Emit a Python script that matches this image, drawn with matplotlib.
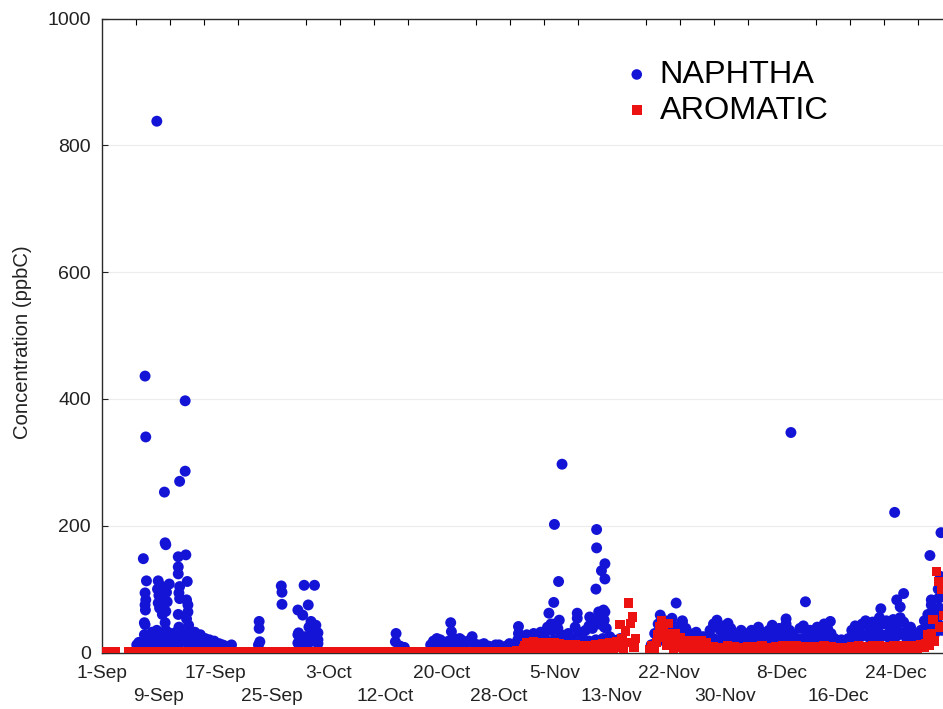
import numpy as np
import matplotlib
matplotlib.use("Agg")
import matplotlib.pyplot as plt
from matplotlib.ticker import MultipleLocator

nan = np.nan

# ---- time axis: days since 1-Sep ----
date_labels = ["1-Sep", "9-Sep", "17-Sep", "25-Sep", "3-Oct", "12-Oct", "20-Oct",
               "28-Oct", "5-Nov", "13-Nov", "22-Nov", "30-Nov", "8-Dec", "16-Dec", "24-Dec"]
label_step_days = 8.2
minor_step_days = 4.92

# ---- NAPHTHA (ppbC), individual samples: (day, value) ----
naphtha_sep = [
    (5.1, 12), (5.4, 16), (5.8, 12),
    (6.05, 148), (6.3, 436), (6.4, 340), (6.5, 113), (6.3, 94), (6.4, 83), (6.3, 75),
    (6.35, 67), (6.2, 47), (6.3, 44), (6.2, 28), (6.4, 18), (6.1, 12),
    (7.0, 20), (7.2, 14), (7.4, 28), (7.6, 18), (7.3, 32),
    (8.0, 838), (8.2, 113), (8.1, 100), (8.3, 90), (8.2, 78), (8.4, 70), (8.0, 35),
    (8.3, 22), (8.1, 14), (8.6, 105), (8.7, 85), (8.8, 60), (8.5, 25), (8.9, 15),
    (9.1, 253), (9.2, 173), (9.3, 170), (9.8, 108), (9.4, 95), (9.5, 80), (9.3, 65),
    (9.2, 47), (9.3, 35), (9.6, 25), (9.4, 15), (9.7, 12),
    (10.0, 30), (10.2, 18), (10.4, 25), (10.6, 14), (10.8, 32), (10.3, 12), (10.9, 20),
    (11.3, 270), (11.1, 151), (11.1, 135), (11.1, 124), (11.3, 104), (11.2, 94),
    (11.3, 85), (11.1, 60), (11.2, 40), (11.4, 28), (11.3, 15),
    (12.1, 397), (12.1, 286), (12.2, 154), (12.4, 112), (12.3, 83), (12.5, 75),
    (12.5, 64), (12.3, 53), (12.6, 43), (12.2, 30), (12.4, 20), (12.6, 12),
    (13.0, 30), (13.2, 20), (13.5, 32), (13.4, 12), (13.6, 25), (13.8, 15), (14.0, 12),
    (14.3, 28), (14.2, 22), (14.5, 12), (14.8, 18), (15.0, 22), (15.1, 12), (15.4, 15),
    (15.6, 20), (15.8, 12), (16.2, 12), (16.3, 18), (16.6, 10), (17.0, 14), (17.5, 12),
    (18.0, 10), (18.8, 12),
    (22.8, 49), (22.8, 38), (22.9, 17), (22.7, 12),
    (26.0, 105), (26.1, 95), (26.1, 76),
    (28.4, 67), (29.3, 106), (30.8, 106), (29.9, 75), (29.1, 59), (30.3, 49), (31.0, 43),
    (31.3, 31), (28.5, 31), (28.4, 28), (28.4, 15), (29.0, 12), (31.3, 14), (29.5, 25),
    (30.0, 40), (30.5, 20), (30.6, 30), (31.3, 20), (29.8, 12),
]

naphtha_oct = [
    (42.6, 30), (42.5, 17), (43.2, 10), (43.8, 8),
    (47.6, 12), (48.0, 18), (48.5, 22), (48.8, 12), (49.0, 20), (49.5, 15), (49.8, 12),
    (50.2, 18), (50.5, 47), (50.6, 33), (50.8, 15), (51.0, 22), (51.5, 15), (51.8, 22),
    (52.0, 20), (52.4, 10), (52.5, 12), (53.0, 18), (53.6, 25), (53.8, 15), (54.2, 10),
    (54.5, 12), (55.0, 12), (55.3, 14), (55.6, 10), (56.0, 10), (56.2, 8), (56.8, 8),
    (57.0, 12), (57.5, 12), (57.8, 6), (58.3, 6), (58.5, 10), (59.0, 14), (59.6, 10),
    (60.2, 20), (60.3, 41), (60.3, 30), (60.5, 12),
]

naphtha_peaks_late = [
    (64.7, 62), (65.0, 45), (65.2, 35), (65.4, 79), (65.5, 202), (66.1, 112), (66.2, 51),
    (66.6, 297), (68.8, 62), (68.8, 54), (70.6, 56),
    (71.5, 100), (71.6, 165), (71.6, 194), (71.9, 64), (72.3, 129), (72.8, 140),
    (72.8, 116), (72.8, 64), (72.7, 51), (72.7, 40), (72.6, 67),
    (80.8, 59), (83.1, 78), (82.5, 54), (84.0, 50),
    (89.0, 51), (90.6, 46), (92.5, 35), (97.0, 43),
    (99.7, 347), (99.0, 53), (101.8, 80), (105.4, 49),
    (112.7, 69), (114.7, 221), (115.0, 83), (115.5, 72), (116.0, 93),
    (119.8, 153), (121.4, 189), (121.3, 120), (120.0, 83), (120.2, 62), (121.0, 100),
    (121.5, 88), (121.2, 70),
]

# twice-daily NAPHTHA samples from 1-Nov (day 61): upper and lower readings
naphtha_nov_dec_start = 61.0
naphtha_nov_dec_step = 0.5
naphtha_nov_dec_high = [
    22, 28, 20, 30, 25, 32, 28, 40, 35, 45,
    38, 28, 25, 30, 22, 40, 32, 28, 35, 42,
    38, 50, 45, 55, 38, 25, 20, 18, 22, nan,
    nan, nan, nan, nan, nan, nan, nan, 12, 30, 45,
    40, 50, 35, 45, 40, 35, 48, 38, 30, 28,
    32, 22, 25, 20, 35, 45, 40, 35, 42, 30,
    38, 28, 22, 25, 20, 30, 35, 25, 40, 32,
    28, 35, 22, 30, 38, 30, 45, 35, 28, 22,
    38, 42, 30, 35, 28, 40, 35, 45, 38, 30,
    22, 18, 20, 15, 22, 35, 42, 38, 45, 50,
    40, 48, 42, 55, 45, 50, 40, 52, 45, 55,
    48, 35, 40, 30, 25, 35, 50, 60, 75, 55,
    85, 65,
]
naphtha_nov_dec_low = [
    12, 15, 10, 14, 16, 12, 15, 18, 14, 20,
    15, 12, 14, 10, 12, 16, 14, 12, 15, 18,
    14, 20, 16, 22, 15, 12, 10, 12, 14, nan,
    nan, nan, nan, nan, nan, nan, nan, 8, 14, 18,
    20, 22, 16, 20, 18, 15, 22, 18, 14, 16,
    15, 12, 14, 10, 16, 22, 18, 20, 22, 16,
    18, 14, 12, 15, 10, 16, 20, 14, 22, 18,
    15, 20, 12, 16, 22, 18, 24, 20, 16, 12,
    20, 22, 18, 20, 15, 22, 18, 24, 20, 16,
    12, 10, 12, 9, 12, 20, 24, 22, 26, 28,
    24, 28, 22, 30, 26, 28, 22, 30, 26, 32,
    28, 20, 24, 18, 14, 20, 28, 35, 40, 30,
    45, 35,
]

# ---- AROMATIC (ppbC) ----
# daily samples, 1-Sep to 31-Oct
aromatic_sep_oct = [
    1, 1, 1, nan, 1, 1, 1, 1, 1, 1,
    1, 1, 1, 1, 1, 1, 1, 1, 1, 1,
    1, 1, 1, 1, 1, 1, 1, 1, 1, 1,
    1, 1, 1, 1, 1, 1, 1, 1, 1, 1,
    1.5, 2, 2, 1.5, 1, 1, 1, 1, 1, 1,
    1, 1, 1, 1, 1, 1, 1, 1, 2, 2, 3,
]
# six-hourly samples from 1-Nov (day 61) to 31-Dec
aromatic_nov_dec = [
    6, 11, 16, 9,   5, 14, 17, 8,   4, 12, 16, 9,   6, 15, 14, 8,   5, 11, 15, 6,
    8, 14, 12, 5,   4, 10, 13, 7,   3, 9, 12, 6,    5, 10, 9, 4,    3, 8, 11, 6,
    4, 9, 12, 5,    5, 11, 14, 7,   5, 12, 15, 8,   6, 14, 17, 9,   44, 22, 6, 34,
    16, 78, 46, 56, 8, 22, nan, nan, nan, nan, nan, nan, nan, 4, 10, 6,
    4, 16, 28, 40,  50, 36, 24, 12, 46, 30, 18, 6,  30, 20, 8, 24,  14, 4, 19, 10,
    16, 6, 19, 12,  4, 16, 8, 19,   12, 4, 16, 6,
    4, 7, 9, 5,     3, 6, 8, 4,     4, 7, 10, 5,    3, 6, 9, 4,     4, 6, 8, 3,
    4, 7, 9, 5,     3, 6, 9, 5,     5, 8, 10, 6,    3, 6, 8, 4,     4, 7, 9, 5,
    5, 8, 10, 6,    5, 9, 11, 7,    4, 7, 10, 5,    3, 7, 9, 4,     4, 6, 9, 5,
    3, 8, 9, 4,     5, 7, 10, 6,    4, 8, 9, 5,     3, 6, 8, 4,     3, 5, 7, 3,
    4, 7, 9, 5,     5, 8, 10, 5,    4, 8, 9, 6,     5, 8, 11, 7,    5, 9, 10, 5,
    4, 8, 9, 6,     5, 8, 11, 7,    5, 8, 10, 6,    5, 9, 11, 7,    6, 10, 11, 7,
    7, 10, 12, 8,   8, 14, 28, 12,  30, 52, 18, 128, 112, 40, 100, 58,
]

blue = "#1414d6"
red = "#ec1212"

plt.rcParams["font.family"] = ["Liberation Sans", "DejaVu Sans"]

fig = plt.figure(figsize=(9.43, 7.09), dpi=100)
px_per_day = 6.915
x_max = 122.0
ax = fig.add_axes([101.5 / 943, (709 - 652.5) / 709, x_max * px_per_day / 943, 634 / 709])

# NAPHTHA
sep_d, sep_v = zip(*naphtha_sep)
oct_d, oct_v = zip(*naphtha_oct)
pk_d, pk_v = zip(*naphtha_peaks_late)
nd_days = naphtha_nov_dec_start + naphtha_nov_dec_step * np.arange(len(naphtha_nov_dec_high))
nap_x = np.concatenate([sep_d, oct_d, nd_days, nd_days, pk_d])
nap_y = np.concatenate([sep_v, oct_v, naphtha_nov_dec_high, naphtha_nov_dec_low, pk_v])
nap = ax.scatter(nap_x, nap_y, s=62, marker="o", color=blue, edgecolors="none",
                 zorder=3, label="NAPHTHA")

# AROMATIC
aro_x = np.concatenate([np.arange(len(aromatic_sep_oct), dtype=float),
                        61.0 + 0.25 * np.arange(len(aromatic_nov_dec))])
aro_y = np.concatenate([aromatic_sep_oct, aromatic_nov_dec])
aro = ax.scatter(aro_x, aro_y, s=46, marker="s", color=red, edgecolors="none",
                 zorder=4, label="AROMATIC")

ax.set_xlim(0, x_max)
ax.set_ylim(0, 1000)

# axes styling
for side in ("top", "left", "bottom", "right"):
    ax.spines[side].set_color("#2a2a2a")
    ax.spines[side].set_linewidth(1.0)

ax.set_yticks(np.arange(0, 1001, 200))
ax.tick_params(axis="y", direction="in", length=4, width=0.8, labelsize=14, pad=7.5,
               colors="#222222")
ax.yaxis.grid(True, color="#ececec", linewidth=0.8)
ax.set_axisbelow(True)

label_pos = label_step_days * np.arange(len(date_labels))
tick_texts = [lab if i % 2 == 0 else "\n" + lab for i, lab in enumerate(date_labels)]
ax.set_xticks(label_pos)
ax.set_xticklabels(tick_texts, fontsize=13.8, color="#222222", linespacing=1.45)
ax.tick_params(axis="x", which="major", length=0, pad=9)
ax.xaxis.set_minor_locator(MultipleLocator(minor_step_days))
ax.tick_params(axis="x", which="minor", direction="in", length=4.5, width=0.8,
               top=True, bottom=True)

ax.set_ylabel("Concentration (ppbC)", fontsize=14.6, color="#222222")
ax.yaxis.set_label_coords(-0.0824, 0.49)

leg = ax.legend(handles=[nap, aro], loc="upper left",
                bbox_to_anchor=(627 / 943, 1 - 60 / 709), bbox_transform=fig.transFigure,
                frameon=False, fontsize=23.4, handlelength=0.6, handletextpad=0.41,
                labelspacing=0.17, borderpad=0, borderaxespad=0, scatterpoints=1)
leg.legend_handles[0].set_sizes([58])
leg.legend_handles[1].set_sizes([52])

fig.savefig("out.png", dpi=100)
